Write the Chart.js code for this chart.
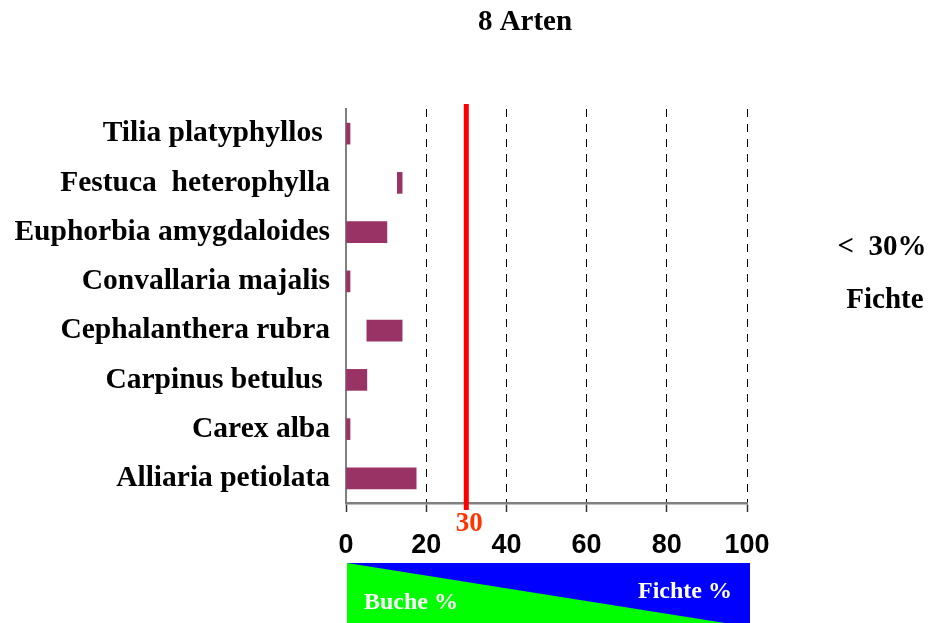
<!DOCTYPE html>
<html>
<head>
<meta charset="utf-8">
<script src="https://cdn.jsdelivr.net/npm/chart.js@4.4.1/dist/chart.umd.min.js"></script>
<style>
  html, body { margin: 0; padding: 0; background: #ffffff; }
  #wrap { width: 929px; height: 623px; position: relative; }
</style>
</head>
<body>
<div id="wrap"><canvas id="c" width="929" height="623"></canvas></div>
<script>
// ---- data ----
const categories = ['Tilia platyphyllos ', 'Festuca  heterophylla', 'Euphorbia amygdaloides', 'Convallaria majalis', 'Cephalanthera rubra', 'Carpinus betulus ', 'Carex alba', 'Alliaria petiolata'];
const barStart = [0, 12.8, 0, 0, 5.2, 0, 0, 0];
const barEnd   = [1, 14, 10.2, 1, 14, 5.2, 1, 17.5];
const xTicks = [0, 20, 40, 60, 80, 100];
const thresholdValue = 30;
const chartTitle = '8 Arten';
const sideNote = ['<  30%', 'Fichte'];
const gradientLabels = ['Buche %', 'Fichte %'];

const serifBold = "'Liberation Serif', 'Times New Roman', serif";
const sansBold = "'Liberation Sans', Arial, sans-serif";

const decorations = {
  id: 'decorations',
  afterDatasetsDraw(chart) {
    const {ctx, chartArea} = chart;
    const xs = chart.scales.x;
    const px = xs.getPixelForValue(thresholdValue);
    ctx.save();
    ctx.fillStyle = '#ff0000';
    ctx.fillRect(px - 2.5, chartArea.top - 5, 5, chartArea.bottom - chartArea.top + 12);
    ctx.restore();
  },
  afterDraw(chart) {
    const {ctx, chartArea} = chart;
    const xs = chart.scales.x;
    const px = xs.getPixelForValue(thresholdValue);
    ctx.save();
    // threshold label
    ctx.fillStyle = '#ff3300';
    ctx.font = 'bold 27px ' + serifBold;
    ctx.textAlign = 'center';
    ctx.textBaseline = 'middle';
    ctx.fillText(String(thresholdValue), px + 3, chartArea.bottom + 21);

    // title
    ctx.fillStyle = '#000';
    ctx.font = 'bold 29px ' + serifBold;
    ctx.fillText(chartTitle, 525, 23);

    // side note
    ctx.fillText(sideNote[0], 882, 248);
    ctx.fillText(sideNote[1], 885, 301);

    // Buche / Fichte band
    const x0 = xs.getPixelForValue(xTicks[0]) + 1;
    const x1 = xs.getPixelForValue(xTicks[xTicks.length - 1]) + 3;
    const y0 = chartArea.bottom + 60;
    const y1 = y0 + 64;
    ctx.fillStyle = '#0000ff';
    ctx.fillRect(x0, y0, x1 - x0, y1 - y0);
    ctx.fillStyle = '#00ff00';
    ctx.beginPath();
    ctx.moveTo(x0, y0);
    ctx.lineTo(x1, y1);
    ctx.lineTo(x0, y1);
    ctx.closePath();
    ctx.fill();
    ctx.fillStyle = '#ffffff';
    ctx.font = 'bold 24px ' + serifBold;
    ctx.textAlign = 'left';
    ctx.fillText(gradientLabels[0], x0 + 17, y0 + 40);
    ctx.fillText(gradientLabels[1], x0 + 291, y0 + 29);
    ctx.restore();
  }
};

new Chart(document.getElementById('c'), {
  type: 'bar',
  data: {
    labels: categories,
    datasets: [{
      data: categories.map((c, i) => [barStart[i], barEnd[i]]),
      backgroundColor: '#993366',
      borderWidth: 0,
      barThickness: 21
    }]
  },
  options: {
    indexAxis: 'y',
    responsive: false,
    animation: false,
    layout: { padding: { top: 109, right: 182, left: 0, bottom: 0 } },
    plugins: { legend: { display: false }, tooltip: { enabled: false }, title: { display: false } },
    scales: {
      x: {
        type: 'linear',
        min: xTicks[0],
        max: xTicks[xTicks.length - 1],
        afterBuildTicks(scale) { scale.ticks = xTicks.map(v => ({ value: v })); },
        afterFit(scale) { scale.height = 120; },
        grid: {
          color: ctx => (ctx.tick && ctx.tick.value === 0) ? 'rgba(0,0,0,0)' : '#000000',
          lineWidth: 1,
          drawTicks: true,
          tickLength: 9,
          tickColor: '#333333',
          tickWidth: 1.5
        },
        border: { display: true, color: '#808080', width: 2.5, dash: [8, 7] },
        ticks: {
          color: '#000000',
          font: { family: sansBold, size: 27, weight: 'bold' },
          padding: 17,
          maxRotation: 0
        }
      },
      y: {
        type: 'category',
        afterFit(scale) { scale.width = 346; },
        grid: { display: false, drawTicks: false },
        border: { display: true, color: '#808080', width: 2 },
        ticks: {
          color: '#000000',
          font: { family: serifBold, size: 29.5, weight: 'bold' },
          padding: 16,
          autoSkip: false
        }
      }
    }
  },
  plugins: [decorations]
});
</script>
</body>
</html>
